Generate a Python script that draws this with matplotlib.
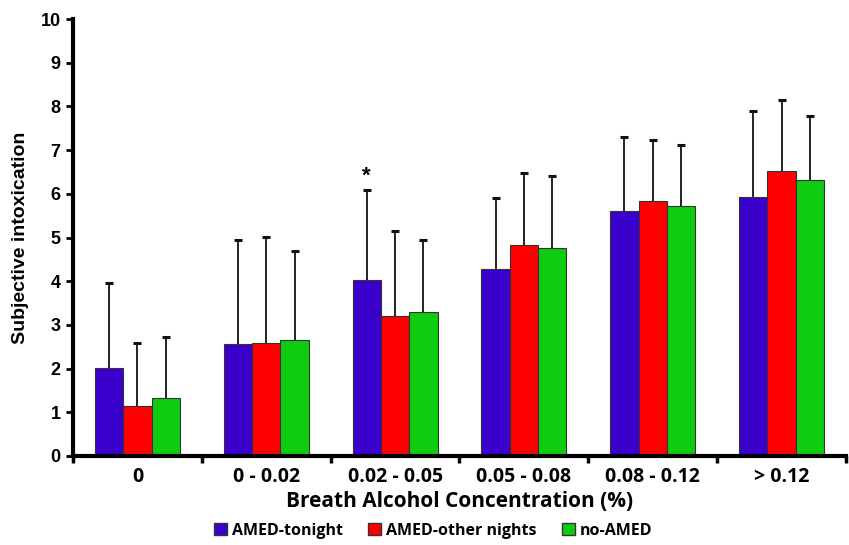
import numpy as np
import matplotlib.pyplot as plt
from matplotlib.patches import Patch

categories = ['0', '0 - 0.02', '0.02 - 0.05', '0.05 - 0.08', '0.08 - 0.12', '> 0.12']
series_names = ['AMED-tonight', 'AMED-other nights', 'no-AMED']
colors = ['#3a00cc', '#ff0000', '#10cc10']

amed_tonight = [2.01, 2.56, 4.02, 4.28, 5.61, 5.93]
amed_other = [1.14, 2.59, 3.20, 4.83, 5.83, 6.52]
no_amed = [1.33, 2.65, 3.30, 4.76, 5.72, 6.32]

sd_tonight = [1.95, 2.39, 2.06, 1.62, 1.69, 1.97]
sd_other = [1.45, 2.43, 1.95, 1.64, 1.41, 1.63]
sd_no = [1.39, 2.05, 1.65, 1.65, 1.40, 1.46]

plt.rcParams['font.family'] = ['Liberation Sans', 'DejaVu Sans']
plt.rcParams['font.weight'] = 'bold'

fig = plt.figure(figsize=(8.49, 5.45), dpi=100)
ax = fig.add_axes([73 / 849, 89 / 545, 773 / 849, 437 / 545])

x = np.arange(len(categories))
w = 0.22
data = [amed_tonight, amed_other, no_amed]
sds = [sd_tonight, sd_other, sd_no]
for i, (vals, sd, c) in enumerate(zip(data, sds, colors)):
    pos = x + (i - 1) * w
    tops = np.array(vals) + np.array(sd)
    ax.bar(pos, vals, w, color=c, edgecolor='#333333', linewidth=0.8, zorder=2)
    # upper error bar only
    ax.vlines(pos, vals, tops, color='#111111', linewidth=1.3, zorder=1)
    ax.plot(pos, tops, ls='none', marker='_', markersize=6, mew=2.2, color='#111111', zorder=1)

# significance marker
ax.text(x[2] - w, amed_tonight[2] + sd_tonight[2] + 0.08, '*', ha='center', va='bottom',
        fontsize=16, fontweight='bold')

ax.set_xlim(-0.5, len(categories) - 0.5)
ax.set_ylim(0, 10)
ax.set_yticks(range(0, 11))
ax.tick_params(axis='y', labelsize=13, width=2, length=5, direction='out', pad=4)
ax.set_xticks(np.arange(len(categories) + 1) - 0.5, minor=False)
ax.set_xticklabels([])
ax.set_xticks(x, minor=True)
ax.set_xticklabels(categories, minor=True, fontsize=14, fontfamily='Open Sans', fontweight='bold')
ax.tick_params(axis='x', which='major', width=2.5, length=5)
ax.tick_params(axis='x', which='minor', length=0, pad=8)

for s in ['top', 'right']:
    ax.spines[s].set_visible(False)
for s in ['left', 'bottom']:
    ax.spines[s].set_linewidth(3)

ax.set_ylabel('Subjective intoxication', fontsize=14, fontweight='bold', labelpad=8)
ax.set_xlabel('Breath Alcohol Concentration (%)', fontsize=15, fontweight='bold',
              fontfamily='Open Sans', labelpad=3)

handles = [Patch(facecolor=c, edgecolor='#333333', label=n) for c, n in zip(colors, series_names)]
fig.legend(handles=handles, loc='lower center', bbox_to_anchor=(0.51, -0.015), ncol=3,
           frameon=False, handlelength=0.8, handleheight=0.8, handletextpad=0.3,
           columnspacing=1.6, prop={'family': 'Open Sans', 'weight': 'bold', 'size': 11.5})

fig.savefig('out.png', dpi=100)
